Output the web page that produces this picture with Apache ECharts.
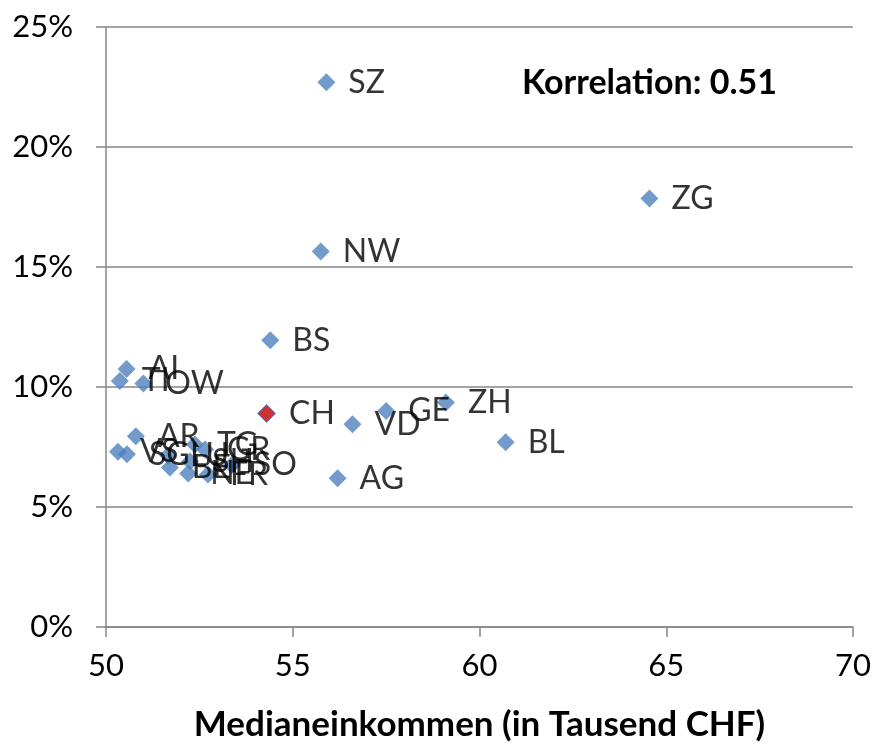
<!DOCTYPE html>
<html>
<head>
<meta charset="utf-8">
<script src="https://cdn.jsdelivr.net/npm/echarts@6/dist/echarts.min.js"></script>
<style>
  html, body { margin: 0; padding: 0; background: #fff; }
  #chart { width: 874px; height: 747px; }
</style>
</head>
<body>
<div id="chart"></div>
<script>
// Kantone
var names = ['SZ', 'ZG', 'NW', 'BS', 'AI', 'TI', 'OW', 'CH', 'VD', 'GE', 'ZH', 'BL', 'AG',
             'AR', 'VS', 'SG', 'LU', 'TG', 'GR', 'BE', 'SH', 'NE', 'FR', 'SO'];
// Medianeinkommen in Tausend CHF
var income = [55.9, 64.55, 55.75, 54.4, 50.55, 50.37, 51.0, 54.3, 56.6, 57.5, 59.1, 60.7, 56.2,
              50.8, 50.32, 50.56, 51.66, 52.38, 52.65, 51.71, 52.25, 52.2, 52.73, 53.37];
// Anteil in %
var share = [22.7, 17.85, 15.65, 11.95, 10.75, 10.25, 10.15, 8.9, 8.45, 9.0, 9.35, 7.7, 6.2,
             7.95, 7.3, 7.2, 7.15, 7.6, 7.4, 6.65, 6.9, 6.4, 6.35, 6.75];

var xTicks = [50, 55, 60, 65, 70];
var yTicks = [0, 5, 10, 15, 20, 25];

var font = 'Lato, "Liberation Sans", sans-serif';
var axisGray = '#868686';

var points = names.map(function (n, i) {
  var item = { name: n, value: [income[i], share[i]] };
  if (n === 'CH') {
    item.itemStyle = { color: '#C00000', borderColor: '#4F81BD', borderWidth: 1 };
  }
  return item;
});

var chart = echarts.init(document.getElementById('chart'));

chart.setOption({
  animation: false,
  grid: { left: 106, right: 21, top: 27, bottom: 120 },
  xAxis: {
    type: 'value',
    min: xTicks[0],
    max: xTicks[xTicks.length - 1],
    interval: 5,
    name: 'Medianeinkommen (in Tausend CHF)',
    nameLocation: 'middle',
    nameGap: 80,
    nameTextStyle: { fontFamily: font, fontSize: 35, fontWeight: 'bold', color: '#000' },
    axisLine: { show: true, lineStyle: { color: axisGray, width: 1.5 } },
    axisTick: { show: true, length: 10, lineStyle: { color: axisGray, width: 1.5 } },
    axisLabel: { fontFamily: font, fontSize: 31, color: '#000', margin: 23 },
    splitLine: { show: false }
  },
  yAxis: {
    type: 'value',
    min: yTicks[0],
    max: yTicks[yTicks.length - 1],
    interval: 5,
    axisLine: { show: true, lineStyle: { color: axisGray, width: 1.5 } },
    axisTick: { show: true, length: 10, lineStyle: { color: axisGray, width: 1.5 } },
    axisLabel: { fontFamily: font, fontSize: 31, color: '#000', margin: 33, formatter: '{value}%' },
    splitLine: { show: true, lineStyle: { color: axisGray, width: 1.5 } }
  },
  graphic: [{
    type: 'text',
    left: 522,
    top: 66,
    style: { text: 'Korrelation: 0.51', font: 'bold 34px ' + font, fill: '#000' }
  }],
  series: [{
    type: 'scatter',
    symbol: 'diamond',
    symbolSize: 18,
    itemStyle: { color: '#4F81BD' },
    label: {
      show: true,
      position: 'right',
      distance: 13,
      formatter: '{b}',
      fontFamily: font,
      fontSize: 32,
      color: '#000'
    },
    labelLayout: { hideOverlap: false },
    data: points
  }]
});
</script>
</body>
</html>
